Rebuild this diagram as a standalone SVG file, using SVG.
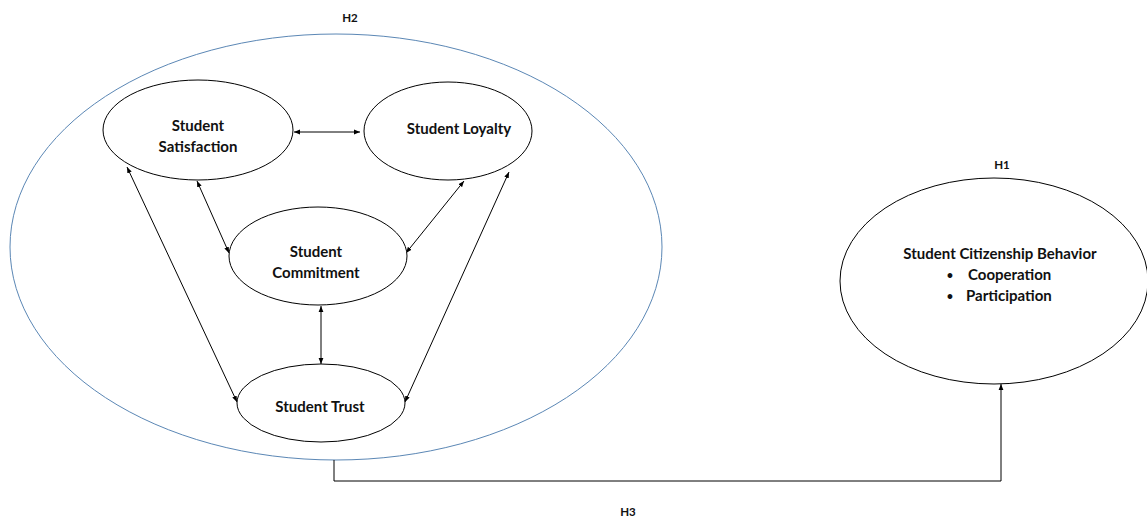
<svg xmlns="http://www.w3.org/2000/svg" width="1147" height="518" viewBox="0 0 1147 518">
<defs>
<style>
.n{fill:#fff;stroke:#000;stroke-width:1}
.t{font-family:Lato,"Open Sans","Liberation Sans",sans-serif;font-weight:bold;font-size:15px;fill:#111;text-anchor:middle}
.b{font-family:Lato,"Liberation Sans",sans-serif;font-weight:bold;font-size:11px;fill:#111;text-anchor:middle}
.h{font-family:Lato,"Open Sans","Liberation Sans",sans-serif;font-weight:bold;font-size:11.5px;fill:#111;text-anchor:middle}
.c{fill:none;stroke:#000;stroke-width:1}
</style>
<marker id="a" viewBox="0 0 10 10" refX="10" refY="5" markerWidth="6" markerHeight="6" orient="auto-start-reverse" markerUnits="userSpaceOnUse">
<path d="M0,1 L10,5 L0,9 z" fill="#000"/>
</marker>
</defs>
<rect width="1147" height="518" fill="#fff"/>
<g id="h2-group">
<ellipse cx="336" cy="247" rx="326" ry="213" fill="none" stroke="#5b87b5" stroke-width="1"/>
<text class="h" x="350" y="22">H2</text>
</g>
<g id="connectors">
<line class="c" x1="294" y1="132" x2="360" y2="132" marker-start="url(#a)" marker-end="url(#a)"/>
<line class="c" x1="127" y1="167" x2="237" y2="402" marker-start="url(#a)" marker-end="url(#a)"/>
<line class="c" x1="197" y1="181" x2="229" y2="253" marker-start="url(#a)" marker-end="url(#a)"/>
<line class="c" x1="464" y1="181" x2="406" y2="253" marker-start="url(#a)" marker-end="url(#a)"/>
<line class="c" x1="509" y1="172" x2="405" y2="402" marker-start="url(#a)" marker-end="url(#a)"/>
<line class="c" x1="321" y1="306" x2="321" y2="364" marker-start="url(#a)" marker-end="url(#a)"/>
<polyline class="c" points="334,460 334,481 1001,481 1001,384" marker-end="url(#a)"/>
<text class="h" x="628" y="516">H3</text>
</g>
<g id="satisfaction">
<ellipse class="n" cx="198" cy="130" rx="95" ry="50"/>
<text class="t" x="198" y="131">Student</text>
<text class="t" x="198" y="152">Satisfaction</text>
</g>
<g id="loyalty">
<ellipse class="n" cx="448" cy="131" rx="84" ry="49"/>
<text class="t" x="459" y="134">Student Loyalty</text>
</g>
<g id="commitment">
<ellipse class="n" cx="318" cy="256" rx="89" ry="49"/>
<text class="t" x="316" y="257">Student</text>
<text class="t" x="316" y="278">Commitment</text>
</g>
<g id="trust">
<ellipse class="n" cx="321" cy="403" rx="84" ry="39"/>
<text class="t" x="320" y="412">Student Trust</text>
</g>
<g id="citizenship">
<ellipse class="n" cx="994" cy="281" rx="154" ry="103"/>
<text class="h" x="1002" y="169">H1</text>
<text class="t" x="1000" y="259">Student Citizenship Behavior</text>
<text class="b" x="950" y="279">•</text>
<text class="t" x="968" y="280" style="text-anchor:start">Cooperation</text>
<text class="b" x="950" y="300">•</text>
<text class="t" x="966" y="301" style="text-anchor:start">Participation</text>
</g>
</svg>
